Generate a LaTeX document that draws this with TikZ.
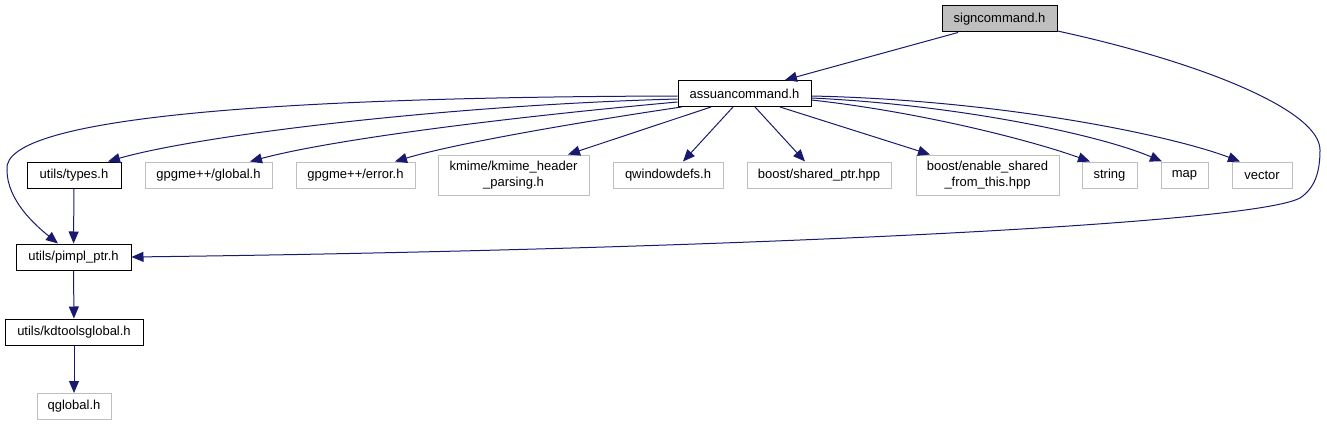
\documentclass[tikz,border=0pt]{standalone}
\usepackage{fontspec}
\setmainfont{Liberation Sans}
\usetikzlibrary{arrows.meta}
\definecolor{edgeblue}{HTML}{191970}
\definecolor{extgrey}{HTML}{BFBFBF}

\begin{document}
\begin{tikzpicture}[x=1pt, y=-1pt, ->, >={Stealth[length=12pt, width=10pt, inset=0pt]},
	draw=edgeblue, line width=1pt,
	file/.style={rectangle, draw=black, fill=white, line width=1pt, inner sep=0pt, minimum height=26pt, font=\fontsize{13}{16}\selectfont, align=center},
	ext/.style={file, draw=extgrey},
	twoline/.style={minimum height=40pt}]
			\useasboundingbox (0,0) rectangle (1327,425);

			\node[file, fill=extgrey, minimum width=115pt] (sign) at (999.5,19) {signcommand.h};
			\node[file, minimum width=133pt] (assuan) at (744.5,93.5) {assuancommand.h};
			
			\node[file, minimum width=94pt] (types) at (74,175) {utils/types.h};
			\node[ext, minimum width=127pt] (gglobal) at (208.5,175) {gpgme++/global.h};
			\node[ext, minimum width=119pt] (gerror) at (355.5,175) {gpgme++/error.h};
			\node[ext, twoline, minimum width=151pt] (kmime) at (513.5,175) {kmime/kmime\_header\\\_parsing.h};
			\node[ext, minimum width=110pt] (qwin) at (668,175) {qwindowdefs.h};
			\node[ext, minimum width=144pt] (shared) at (819,175) {boost/shared\_ptr.hpp};
			\node[ext, twoline, minimum width=143pt] (enable) at (987.5,175) {boost/enable\_shared\\\_from\_this.hpp};
			\node[ext, minimum width=55pt] (string) at (1109.5,175) {string};
			\node[ext, minimum width=47pt] (map) at (1184.5,175) {map};
			\node[ext, minimum width=60pt] (vector) at (1262,175) {vector};
			
			\node[file, minimum width=115pt] (pimpl) at (73.5,257) {utils/pimpl\_ptr.h};
			\node[file, minimum width=138pt] (kdtools) at (74,332) {utils/kdtoolsglobal.h};
			\node[ext, minimum width=74pt] (qglobal) at (74,406.5) {qglobal.h};
			
			\draw ([xshift=-41.5pt]sign.south) -- ([xshift=40.5pt]assuan.north);
			\draw ([yshift=-12pt]sign.east) .. controls (1200,62) and (1320,110) .. (1320,150)
				.. controls (1320,172) and (1315,188) .. (1300,198)
				.. controls (1250,225) and (700,250) .. (pimpl.east);
			
			\draw ([yshift=-2.5pt]assuan.west) .. controls (300,97) and (0,115) .. (7,170)
				.. controls (7,200) and (35,225) .. ([xshift=-15.5pt]pimpl.north);
			\draw ([yshift=-5.5pt]assuan.west) .. controls (450,105) and (200,135) .. ([xshift=34pt]types.north);
			\draw ([yshift=-8.5pt]assuan.west) .. controls (500,118) and (330,140) .. ([xshift=41.5pt]gglobal.north);
			\draw ([xshift=4pt]assuan.south west) .. controls (560,125) and (450,145) .. ([xshift=39.5pt]gerror.north);
			\draw ([xshift=-33.5pt]assuan.south) -- ([xshift=54.5pt]kmime.north);
			\draw ([xshift=-11.5pt]assuan.south) -- ([xshift=15pt]qwin.north);
			\draw ([xshift=10.5pt]assuan.south) -- ([xshift=-14pt]shared.north);
			\draw ([xshift=35.5pt]assuan.south) -- ([xshift=-57.5pt]enable.north);
			\draw ([yshift=-6.5pt]assuan.east) .. controls (920,112) and (1030,140) .. ([xshift=-19.5pt]string.north);
			\draw ([yshift=-4.5pt]assuan.east) .. controls (960,105) and (1100,135) .. ([xshift=-22.5pt]map.north);
			\draw ([yshift=-2.5pt]assuan.east) .. controls (1000,100) and (1170,135) .. ([xshift=-22pt]vector.north);
			
			\draw (types) -- (pimpl);
			\draw (pimpl) -- (kdtools);
			\draw (kdtools) -- (qglobal);
		\end{tikzpicture}
\end{document}
